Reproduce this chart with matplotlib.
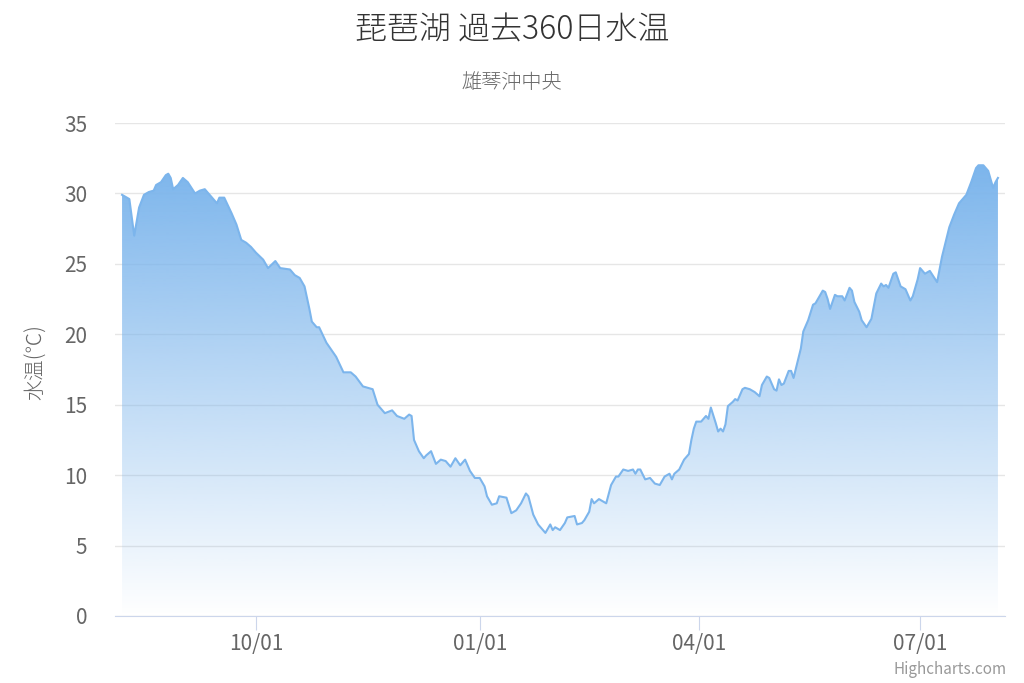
import numpy as np
import matplotlib.pyplot as plt
import matplotlib.dates as mdates

plt.rcParams['font.family'] = ['Noto Sans CJK JP', 'DejaVu Sans']

# データ (2022-08-07 からの経過日数と水温)
start = np.datetime64('2022-08-07')
day = [
    0, 2, 3, 5, 7, 9, 11, 13, 14, 16, 18, 19, 20, 21, 23, 25, 27, 30, 32, 34,
    36, 39, 40, 42, 45, 47, 49, 51, 53, 55, 58, 60, 63, 65, 69, 71, 73, 75, 77, 78,
    80, 81, 84, 88, 91, 94, 96, 99, 101, 103, 105, 108, 111, 113, 116, 118, 119, 120, 122, 124,
    125, 127, 129, 131, 133, 135, 137, 139, 141, 143, 145, 147, 149, 150, 152, 154, 155, 158, 160, 162,
    164, 166, 167, 169, 171, 174, 176, 177, 178, 180, 182, 183, 186, 187, 189, 190, 192, 193, 194, 196,
    199, 201, 203, 204, 206, 208, 210, 211, 212, 213, 215, 217, 219, 221, 223, 225, 226, 227, 229, 231,
    233, 234, 235, 236, 238, 240, 241, 242, 244, 245, 246, 247, 248, 249, 251, 252, 253, 255, 256, 258,
    260, 262, 263, 265, 266, 268, 269, 270, 271, 272, 274, 275, 276, 277, 279, 280, 282, 284, 285, 286,
    288, 289, 290, 291, 293, 294, 296, 297, 299, 300, 301, 303, 304, 306, 308, 310, 312, 313, 314, 315,
    317, 318, 320, 322, 324, 325, 327, 328, 330, 332, 335, 337, 338, 340, 342, 344, 347, 349, 351, 352,
    354, 356, 358, 359, 360,
]
temp = [
    29.9, 29.7, 29.6, 27.0, 29.0, 29.9, 30.1, 30.2, 30.6, 30.8, 31.3, 31.4, 31.1, 30.3, 30.6, 31.1, 30.8, 30.0, 30.2, 30.3,
    29.9, 29.3, 29.7, 29.7, 28.6, 27.8, 26.7, 26.5, 26.2, 25.8, 25.3, 24.7, 25.2, 24.7, 24.6, 24.2, 24.0, 23.4, 21.8, 20.9,
    20.5, 20.5, 19.4, 18.4, 17.3, 17.3, 17.0, 16.3, 16.2, 16.1, 15.0, 14.4, 14.6, 14.2, 14.0, 14.3, 14.2, 12.5, 11.7, 11.2,
    11.4, 11.7, 10.8, 11.1, 11.0, 10.6, 11.2, 10.7, 11.1, 10.3, 9.8, 9.8, 9.2, 8.5, 7.9, 8.0, 8.5, 8.4, 7.3, 7.5,
    8.0, 8.7, 8.5, 7.2, 6.5, 5.9, 6.5, 6.1, 6.3, 6.1, 6.6, 7.0, 7.1, 6.5, 6.6, 6.8, 7.4, 8.3, 8.0, 8.3,
    8.0, 9.3, 9.9, 9.9, 10.4, 10.3, 10.4, 10.1, 10.4, 10.4, 9.7, 9.8, 9.4, 9.3, 9.9, 10.1, 9.7, 10.1, 10.4, 11.1,
    11.5, 12.5, 13.3, 13.8, 13.8, 14.2, 14.0, 14.8, 13.7, 13.1, 13.3, 13.1, 13.6, 14.9, 15.2, 15.4, 15.3, 16.1, 16.2, 16.1,
    15.9, 15.6, 16.4, 17.0, 16.9, 16.1, 16.0, 16.8, 16.4, 16.5, 17.4, 17.4, 16.9, 17.6, 19.0, 20.2, 21.0, 22.1, 22.2, 22.5,
    23.1, 23.0, 22.5, 21.8, 22.8, 22.7, 22.7, 22.4, 23.3, 23.1, 22.3, 21.6, 21.0, 20.5, 21.1, 22.9, 23.6, 23.4, 23.5, 23.3,
    24.3, 24.4, 23.4, 23.2, 22.4, 22.7, 23.9, 24.7, 24.3, 24.5, 23.7, 25.5, 26.2, 27.6, 28.5, 29.3, 29.9, 30.8, 31.8, 32.0,
    32.0, 31.6, 30.4, 30.8, 31.1,
]
tick_dates = ['2022-10-01', '2023-01-01', '2023-04-01', '2023-07-01']

title = '琵琶湖 過去360日水温'
subtitle = '雄琴沖中央'
ylabel = '水温(℃)'

dates = start + np.array(day).astype('timedelta64[D]')
x = mdates.date2num(dates)
y = np.array(temp)

fig = plt.figure(figsize=(10.24, 6.83), dpi=100)
ax = fig.add_axes([115 / 1024, 1 - 616 / 683, 890 / 1024, 493 / 683])

# グラデーション塗り
fill = ax.fill_between(x, y, 0, facecolor='none', edgecolor='none')
rgba = np.zeros((256, 1, 4))
rgba[:, 0, 0] = 124 / 255
rgba[:, 0, 1] = 181 / 255
rgba[:, 0, 2] = 236 / 255
rgba[:, 0, 3] = np.linspace(1, 0, 256)
img = ax.imshow(rgba, extent=[x[0], x[-1], 0, y.max()], aspect='auto',
                origin='upper', zorder=1)
img.set_clip_path(fill.get_paths()[0], transform=ax.transData)

ax.plot(x, y, color='#7cb5ec', lw=1.5, zorder=3)

ax.set_xlim(x[0] - 2.9, x[-1] + 2.9)
ax.set_ylim(0, 35)
ax.set_yticks(range(0, 36, 5))
ax.set_xticks(mdates.date2num(np.array(tick_dates, dtype='datetime64[D]')))
ax.xaxis.set_major_formatter(mdates.DateFormatter('%m/%d'))

ax.yaxis.grid(True, color='#e6e6e6', lw=1)
ax.set_axisbelow(True)
for s in ['left', 'right', 'top']:
    ax.spines[s].set_visible(False)
ax.spines['bottom'].set_color('#ccd6eb')
ax.spines['bottom'].set_zorder(4)

ax.tick_params(axis='y', length=0, pad=20, labelsize=15, labelcolor='#666666')
ax.tick_params(axis='x', length=10, color='#ccd6eb', pad=2, labelsize=15,
               labelcolor='#666666')

fig.text(0.5, 1 - 30 / 683, title, ha='center', va='center', fontsize=23,
         fontweight='light', color='#333333')
fig.text(0.5, 1 - 83 / 683, subtitle, ha='center', va='center', fontsize=14.5,
         fontweight='light', color='#666666')
fig.text(36 / 1024, 1 - 362 / 683, ylabel, rotation=90, ha='center', va='center',
         fontsize=15, fontweight='light', color='#666666')
fig.text(1007 / 1024, 1 - 670 / 683, 'Highcharts.com', ha='right', va='center',
         fontsize=11, color='#999999')

fig.savefig('out.png', dpi=100)
